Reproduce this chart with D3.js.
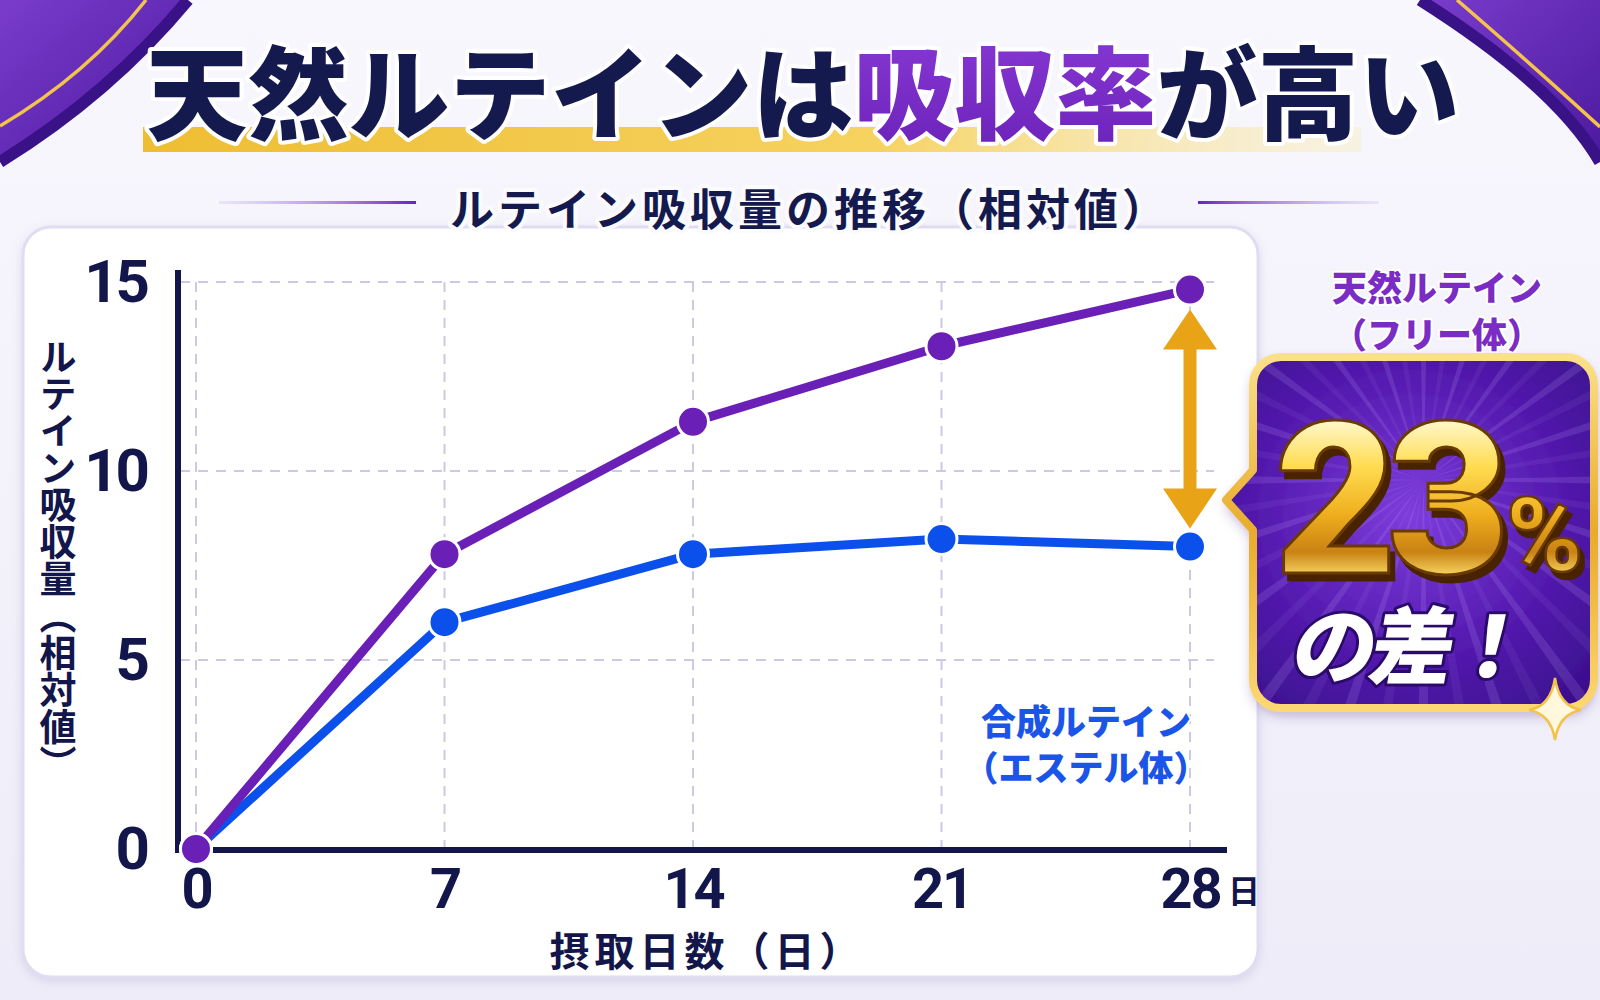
<!DOCTYPE html>
<html>
<meta charset="utf-8">
<style>
  body { margin: 0; background: #f3f2fa; }
  svg text { font-family: "Noto Sans CJK JP", sans-serif; }
  .num { font-family: Roboto, "Liberation Sans", sans-serif; }
</style>
<body>
<script src="https://d3js.org/d3.v7.min.js"></script>
<script>
  // data
  let days = [0, 7, 14, 21, 28];
  let naturalValues = [0, 7.8, 11.3, 13.3, 14.8];
  let syntheticValues = [0, 6.0, 7.8, 8.2, 8.0];
  let yTicks = [0, 5, 10, 15];
  let gridY = [5, 10, 15];

  let titleParts = [["天然ルテインは", "#151a4e"], ["吸収率", "url(#titlePurple)"], ["が高い", "#151a4e"]];
  let subtitle = "ルテイン吸収量の推移（相対値）";
  let yTitle = "ルテイン吸収量（相対値）";
  let xTitle = "摂取日数（日）";
  let naturalLabel = ["天然ルテイン", "（フリー体）"];
  let syntheticLabel = ["合成ルテイン", "（エステル体）"];
  let diffText = "23", diffUnit = "%", diffTail = "の差！";

  let width = 1600, height = 1000;
  let navy = "#12164a", purple = "#6a1fb6", blue = "#0c50ec", gold = "#e8a317";

  let svg = d3.select("body").append("svg")
    .attr("width", width)
    .attr("height", height);

  let defs = svg.append("defs");

  function linGrad(id, x1, y1, x2, y2, stops, units) {
    let g = defs.append("linearGradient").attr("id", id)
      .attr("x1", x1).attr("y1", y1).attr("x2", x2).attr("y2", y2);
    if (units) g.attr("gradientUnits", units);
    stops.forEach(s => g.append("stop").attr("offset", s[0]).attr("stop-color", s[1]).attr("stop-opacity", s[2] == null ? 1 : s[2]));
  }

  linGrad("bg", 0, 0, 0, 1, [[0, "#f8f7fd"], [1, "#eeecf8"]]);
  linGrad("corner", 0, 0, 1, 1, [[0, "#7a3ccc"], [1, "#4b1a9e"]]);
  linGrad("band", 0, 0, 1, 0, [[0, "#eebd32"], [0.6, "#f6d260"], [1, "#fae9a8", 0.3]]);
  linGrad("titlePurple", 0, 0, 0, 1, [[0, "#8a3ad6"], [1, "#6a22b8"]]);
  linGrad("lineL", 0, 0, 1, 0, [[0, "#b9a6e6", 0.2], [1, "#6a22c0"]]);
  linGrad("lineR", 0, 0, 1, 0, [[0, "#6a22c0"], [1, "#b9a6e6", 0.2]]);
  linGrad("goldBorder", 0, 0, 0, 1, [[0, "#fbe08a"], [0.5, "#e9ab2a"], [1, "#fcd773"]]);
  linGrad("goldText", 0, 420, 0, 575, [[0, "#fff8cc"], [0.3, "#ffdc50"], [0.6, "#f0b020"], [0.85, "#c98212"], [1, "#f6d462"]], "userSpaceOnUse");

  let rg = defs.append("radialGradient").attr("id", "boxFill")
    .attr("cx", 0.5).attr("cy", 0.45).attr("r", 0.7);
  rg.append("stop").attr("offset", 0).attr("stop-color", "#7e3ddc");
  rg.append("stop").attr("offset", 0.6).attr("stop-color", "#5219ad");
  rg.append("stop").attr("offset", 1).attr("stop-color", "#3a0f8c");

  let shadow = defs.append("filter").attr("id", "shadow")
    .attr("x", "-20%").attr("y", "-20%").attr("width", "140%").attr("height", "140%");
  shadow.append("feDropShadow").attr("dx", 0).attr("dy", 6).attr("stdDeviation", 7)
    .attr("flood-color", "#3a1a70").attr("flood-opacity", 0.35);

  let soft = defs.append("filter").attr("id", "soft")
    .attr("x", "-5%").attr("y", "-5%").attr("width", "110%").attr("height", "110%");
  soft.append("feDropShadow").attr("dx", 0).attr("dy", 3).attr("stdDeviation", 5)
    .attr("flood-color", "#8c84c0").attr("flood-opacity", 0.25);

  // 3d look for the gold number
  let deep = defs.append("filter").attr("id", "deep")
    .attr("x", "-10%").attr("y", "-10%").attr("width", "125%").attr("height", "130%");
  deep.append("feDropShadow").attr("dx", 5).attr("dy", 7).attr("stdDeviation", 0.6)
    .attr("flood-color", "#4a2400").attr("flood-opacity", 1);

  // background and purple corners
  svg.append("rect").attr("width", width).attr("height", height).attr("fill", "url(#bg)");

  svg.append("path").attr("d", "M0,0 L188,0 Q110,94 0,162 Z").attr("fill", "url(#corner)");
  svg.append("path").attr("d", "M188,0 Q110,94 0,162").attr("fill", "none").attr("stroke", "#3a1288").attr("stroke-width", 12);
  svg.append("path").attr("d", "M146,0 Q88,74 0,126").attr("fill", "none").attr("stroke", "#f3c34e").attr("stroke-width", 3.5);

  svg.append("path").attr("d", "M1420,0 L1600,0 L1600,162 Q1556,86 1420,0 Z").attr("fill", "url(#corner)");
  svg.append("path").attr("d", "M1420,0 Q1556,86 1600,162").attr("fill", "none").attr("stroke", "#3a1288").attr("stroke-width", 12);
  svg.append("path").attr("d", "M1457,0 Q1538,70 1600,127").attr("fill", "none").attr("stroke", "#f3c34e").attr("stroke-width", 3.5);

  // title
  svg.append("rect").attr("x", 143).attr("y", 127).attr("width", 1218).attr("height", 25)
    .attr("fill", "url(#band)");

  let title = svg.append("text")
    .attr("x", 803).attr("y", 88)
    .attr("text-anchor", "middle")
    .attr("dominant-baseline", "central")
    .attr("font-size", 101)
    .attr("font-weight", 900)
    .attr("stroke", "#ffffff").attr("stroke-width", 8)
    .attr("stroke-linejoin", "round")
    .attr("paint-order", "stroke");
  titleParts.forEach(p => title.append("tspan").attr("fill", p[1]).text(p[0]));

  // chart panel
  svg.append("rect")
    .attr("x", 23).attr("y", 227).attr("width", 1235).attr("height", 750)
    .attr("rx", 28)
    .attr("fill", "#ffffff")
    .attr("stroke", "#e0dcf2").attr("stroke-width", 3)
    .attr("filter", "url(#soft)");

  // subtitle with side lines (drawn over the panel edge)
  svg.append("rect").attr("x", 219).attr("width", 197).attr("y", 201).attr("height", 3)
    .attr("fill", "url(#lineL)");
  svg.append("rect").attr("x", 1198).attr("width", 181).attr("y", 201).attr("height", 3)
    .attr("fill", "url(#lineR)");
  svg.append("text")
    .attr("x", 810).attr("y", 207)
    .attr("text-anchor", "middle")
    .attr("dominant-baseline", "central")
    .attr("font-size", 44).attr("font-weight", 700)
    .attr("letter-spacing", 4)
    .attr("fill", "#151a4e")
    .attr("stroke", "#fbfbfe").attr("stroke-width", 8)
    .attr("stroke-linejoin", "round")
    .attr("paint-order", "stroke")
    .text(subtitle);

  let x = d3.scaleLinear().domain([0, 28]).range([196, 1190]);
  let y = d3.scaleLinear().domain([0, 15]).range([849, 282]);

  // grid
  svg.append("g").selectAll("line").data(gridY).join("line")
    .attr("x1", x(0) - 16).attr("x2", x(28) + 24)
    .attr("y1", d => y(d)).attr("y2", d => y(d))
    .attr("stroke", "#cdc9e4").attr("stroke-width", 2)
    .attr("stroke-dasharray", "10 8");
  svg.append("g").selectAll("line").data(days).join("line")
    .attr("x1", d => x(d)).attr("x2", d => x(d))
    .attr("y1", y(15)).attr("y2", y(0))
    .attr("stroke", "#cdc9e4").attr("stroke-width", 2)
    .attr("stroke-dasharray", "10 8");

  // axes
  let yAxis = svg.append("g")
    .attr("transform", "translate(178,0)")
    .call(d3.axisLeft(y).tickValues(yTicks).tickSize(0).tickPadding(31));
  yAxis.select(".domain").remove();
  yAxis.selectAll("text")
    .attr("class", "num")
    .attr("font-size", 60).attr("font-weight", 700)
    .attr("letter-spacing", -3)
    .attr("fill", navy);

  let xAxis = svg.append("g")
    .attr("transform", "translate(0," + (y(0) + 1) + ")")
    .call(d3.axisBottom(x).tickValues(days).tickSize(0).tickPadding(18));
  xAxis.select(".domain").remove();
  xAxis.selectAll("text")
    .attr("class", "num")
    .attr("font-size", 56).attr("font-weight", 700)
    .attr("letter-spacing", -2)
    .attr("fill", navy);

  svg.append("line")
    .attr("x1", 178).attr("x2", 178)
    .attr("y1", y(15) - 12).attr("y2", y(0) + 4)
    .attr("stroke", navy).attr("stroke-width", 6);
  svg.append("line")
    .attr("x1", 175).attr("x2", x(28) + 37)
    .attr("y1", y(0) + 1).attr("y2", y(0) + 1)
    .attr("stroke", navy).attr("stroke-width", 6);

  svg.append("text")
    .attr("x", x(28) + 38).attr("y", y(0) + 40)
    .attr("dominant-baseline", "central")
    .attr("font-size", 32).attr("font-weight", 700)
    .attr("fill", navy)
    .text("日");

  svg.append("text")
    .attr("x", 707).attr("y", 949)
    .attr("text-anchor", "middle")
    .attr("dominant-baseline", "central")
    .attr("font-size", 40).attr("font-weight", 700)
    .attr("letter-spacing", 5)
    .attr("fill", navy)
    .text(xTitle);

  svg.append("text")
    .attr("x", 58).attr("y", 560)
    .attr("text-anchor", "middle")
    .attr("style", "writing-mode: vertical-rl")
    .attr("font-size", 37).attr("font-weight", 700)
    .attr("fill", navy)
    .text(yTitle);

  // lines and dots
  let line = d3.line().x((d, i) => x(days[i])).y(d => y(d));

  [[syntheticValues, blue], [naturalValues, purple]].forEach(s => {
    svg.append("path")
      .datum(s[0])
      .attr("d", line)
      .attr("fill", "none")
      .attr("stroke", s[1])
      .attr("stroke-width", 9)
      .attr("stroke-linejoin", "round");
  });
  [[syntheticValues, blue], [naturalValues, purple]].forEach(s => {
    svg.append("g").selectAll("circle").data(s[0]).join("circle")
      .attr("cx", (d, i) => x(days[i]))
      .attr("cy", d => y(d))
      .attr("r", 15.5)
      .attr("fill", s[1])
      .attr("stroke", "#ffffff").attr("stroke-width", 3);
  });

  // gold double arrow between the last points
  let ax = x(28);
  let aTop = y(naturalValues[4]) + 20, aBot = y(syntheticValues[4]) - 18;
  svg.append("rect").attr("x", ax - 6.5).attr("y", aTop + 30).attr("width", 13).attr("height", aBot - aTop - 60)
    .attr("fill", gold);
  svg.append("path")
    .attr("d", `M${ax},${aTop} L${ax + 27},${aTop + 40} L${ax - 27},${aTop + 40} Z M${ax},${aBot} L${ax + 27},${aBot - 40} L${ax - 27},${aBot - 40} Z`)
    .attr("fill", gold);

  // series labels
  function label(lines, cx, cy, size, gap, color) {
    lines.forEach((t, i) => {
      svg.append("text")
        .attr("x", cx).attr("y", cy + i * gap)
        .attr("text-anchor", "middle")
        .attr("dominant-baseline", "central")
        .attr("font-size", size).attr("font-weight", 900)
        .attr("fill", color)
        .attr("stroke", "#ffffff").attr("stroke-width", 4)
        .attr("stroke-linejoin", "round")
        .attr("paint-order", "stroke")
        .text(t);
    });
  }
  label(naturalLabel, 1437, 285, 35, 47, "#7a2cc4");
  label(syntheticLabel, 1086, 719, 35, 46, "#1b55e8");

  // badge
  let L = 1253, R = 1594, T = 357, B = 708, r = 28;
  let boxPath = `M${L + r},${T} H${R - r} A${r},${r} 0 0 1 ${R},${T + r} V${B - r} A${r},${r} 0 0 1 ${R - r},${B} H${L + r} A${r},${r} 0 0 1 ${L},${B - r} V530 L1226,500 L${L},470 V${T + r} A${r},${r} 0 0 1 ${L + r},${T} Z`;

  defs.append("clipPath").attr("id", "boxClip").append("path").attr("d", boxPath);

  svg.append("path").attr("d", boxPath).attr("fill", "url(#boxFill)").attr("filter", "url(#shadow)");

  let cx = (L + R) / 2, cy = 480;
  let rays = svg.append("g").attr("clip-path", "url(#boxClip)");
  d3.range(0, 360, 9).forEach(a => {
    let t1 = (a - 1.2) * Math.PI / 180, t2 = (a + 1.2) * Math.PI / 180;
    rays.append("path")
      .attr("d", `M${cx},${cy} L${cx + 400 * Math.cos(t1)},${cy + 400 * Math.sin(t1)} L${cx + 400 * Math.cos(t2)},${cy + 400 * Math.sin(t2)} Z`)
      .attr("fill", "#c9a6ff")
      .attr("opacity", a % 18 == 0 ? 0.16 : 0.08);
  });

  svg.append("path").attr("d", boxPath).attr("fill", "none")
    .attr("stroke", "url(#goldBorder)").attr("stroke-width", 8).attr("stroke-linejoin", "round");

  // 23% with a hard drop shadow for depth
  let big = svg.append("g").attr("filter", "url(#deep)");
  big.append("text")
    .attr("class", "num")
    .attr("x", 1500).attr("y", 573)
    .attr("text-anchor", "end")
    .attr("font-size", 212).attr("font-weight", 900)
    .attr("letter-spacing", -10)
    .attr("fill", "url(#goldText)")
    .attr("stroke", "#6b3a00").attr("stroke-width", 3)
    .text(diffText);
  big.append("text")
    .attr("class", "num")
    .attr("x", 1506).attr("y", 571)
    .attr("font-size", 104).attr("font-weight", 900)
    .attr("fill", "url(#goldText)")
    .attr("stroke", "#6b3a00").attr("stroke-width", 2.5)
    .text(diffUnit);

  svg.append("text")
    .attr("transform", "translate(1412,640) skewX(-10)")
    .attr("text-anchor", "middle")
    .attr("dominant-baseline", "central")
    .attr("font-size", 84).attr("font-weight", 900)
    .attr("letter-spacing", -6)
    .attr("fill", "#ffffff")
    .attr("stroke", "#2a0b6b").attr("stroke-width", 6)
    .attr("stroke-linejoin", "round")
    .attr("paint-order", "stroke")
    .text(diffTail);

  // sparkle
  let sx = 1555, sy = 710;
  svg.append("path")
    .attr("d", `M${sx},${sy - 32} Q${sx + 4},${sy - 4} ${sx + 26},${sy} Q${sx + 4},${sy + 4} ${sx},${sy + 30} Q${sx - 4},${sy + 4} ${sx - 26},${sy} Q${sx - 4},${sy - 4} ${sx},${sy - 32} Z`)
    .attr("fill", "#fff8dc")
    .attr("stroke", "#f2c24a").attr("stroke-width", 2.5);
</script>
</body>
</html>
